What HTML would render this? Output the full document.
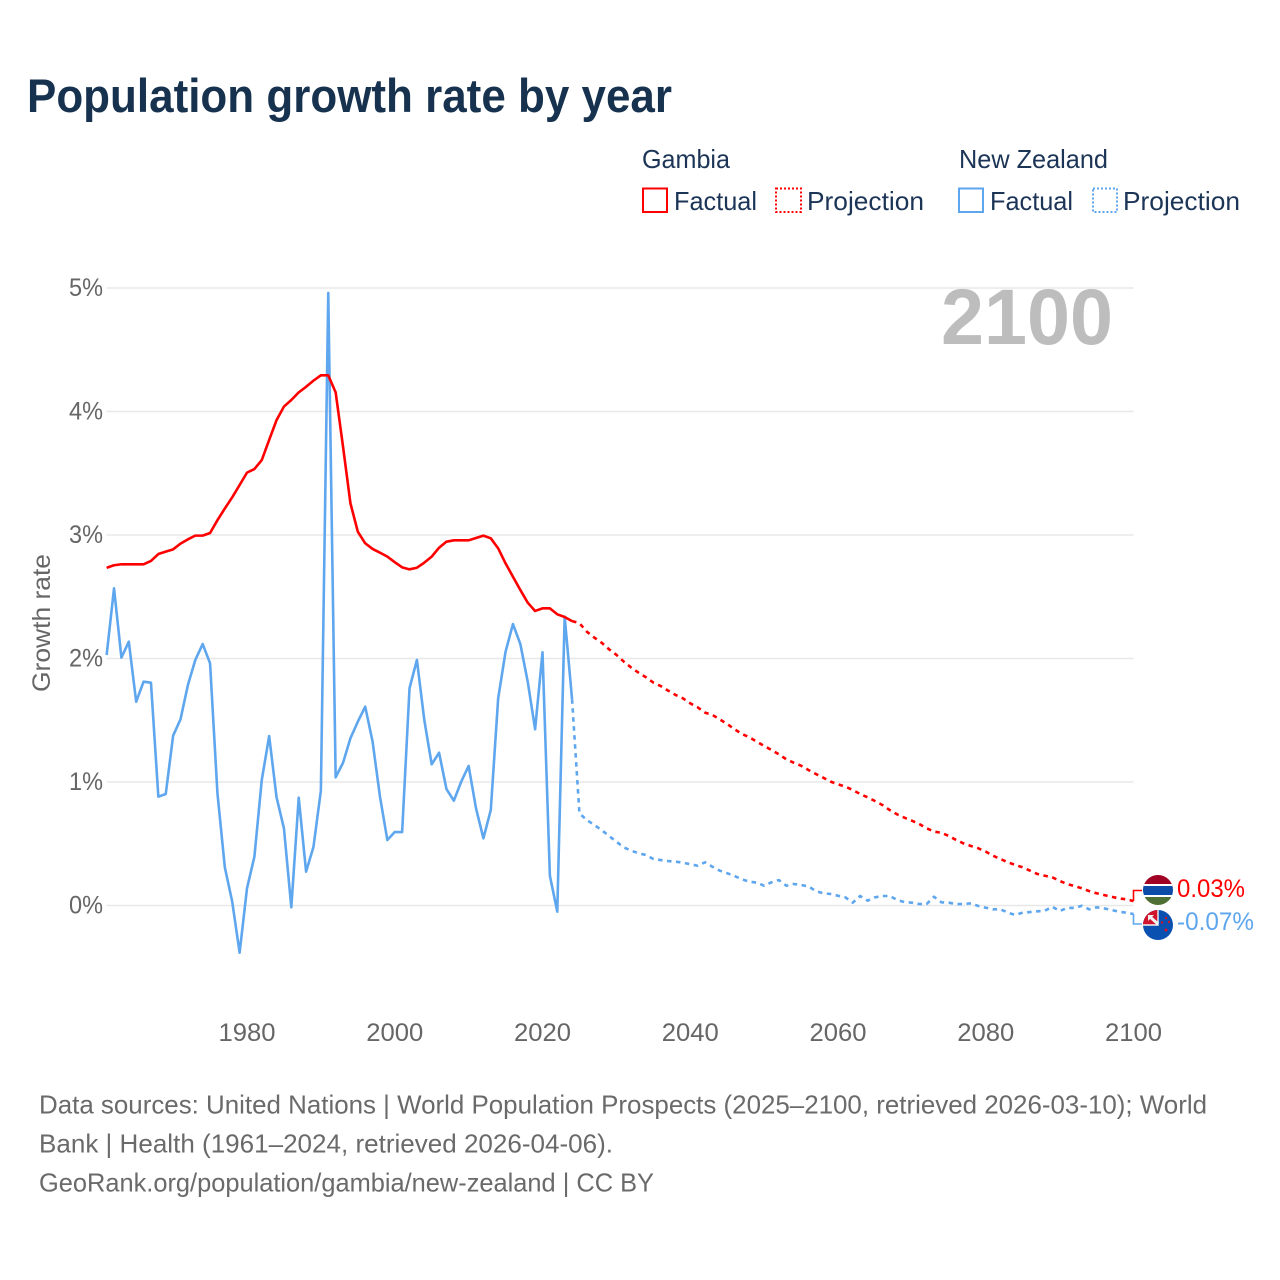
<!DOCTYPE html>
<html lang="en">
<head>
<meta charset="utf-8">
<title>Population growth rate by year</title>
<style>
html,body{margin:0;padding:0;background:#fff;width:1280px;height:1280px;overflow:hidden}
svg{display:block}
text{font-family:"Liberation Sans",sans-serif}
</style>
</head>
<body>
<svg id="chart" xmlns="http://www.w3.org/2000/svg" width="1280" height="1280" viewBox="0 0 1280 1280">
  <rect x="0" y="0" width="1280" height="1280" fill="#fff"/>
  <text x="27" y="112" font-size="47" font-weight="700" fill="#17324f" textLength="645" lengthAdjust="spacingAndGlyphs">Population growth rate by year</text>

  <g>
    <text x="642" y="168" font-size="26" fill="#1c3557" textLength="88" lengthAdjust="spacingAndGlyphs">Gambia</text>
    <rect x="643" y="188.5" width="24" height="23.5" fill="none" stroke="#ff0000" stroke-width="2"/>
    <text x="674" y="210" font-size="26" fill="#1c3557" textLength="83" lengthAdjust="spacingAndGlyphs">Factual</text>
    <rect x="776" y="188.5" width="25" height="23.5" fill="none" stroke="#ff0000" stroke-width="2" stroke-dasharray="2 2"/>
    <text x="807" y="210" font-size="26" fill="#1c3557" textLength="117" lengthAdjust="spacingAndGlyphs">Projection</text>
    <text x="959" y="168" font-size="26" fill="#1c3557" textLength="149" lengthAdjust="spacingAndGlyphs">New Zealand</text>
    <rect x="959" y="188.5" width="24" height="23.5" fill="none" stroke="#5ea6ee" stroke-width="2"/>
    <text x="990" y="210" font-size="26" fill="#1c3557" textLength="83" lengthAdjust="spacingAndGlyphs">Factual</text>
    <rect x="1093" y="188.5" width="24" height="23.5" fill="none" stroke="#5ea6ee" stroke-width="2" stroke-dasharray="2 2"/>
    <text x="1123" y="210" font-size="26" fill="#1c3557" textLength="117" lengthAdjust="spacingAndGlyphs">Projection</text>
  </g>

  <g id="grid"></g>
  <g id="yLabels"></g>
  <g id="xLabels"></g>
  <text transform="translate(50,623) rotate(-90)" text-anchor="middle" font-size="25" fill="#666" textLength="138" lengthAdjust="spacingAndGlyphs">Growth rate</text>
  <text x="941" y="344" font-size="79" font-weight="700" fill="#bdbdbd" textLength="172" lengthAdjust="spacingAndGlyphs">2100</text>
  <g id="series"></g>

  <g>
    <defs>
      <clipPath id="clip-gm"><circle cx="1158" cy="890" r="15"/></clipPath>
      <clipPath id="clip-nz"><circle cx="1158" cy="925" r="15"/></clipPath>
    </defs>
    <g clip-path="url(#clip-gm)">
      <rect x="1143" y="875" width="30" height="11" fill="#a00024"/>
      <rect x="1143" y="884" width="30" height="2" fill="#fff"/>
      <rect x="1143" y="886" width="30" height="9" fill="#0c4ca8"/>
      <rect x="1143" y="895" width="30" height="2" fill="#fff"/>
      <rect x="1143" y="897" width="30" height="8" fill="#4f7034"/>
    </g>
    <g clip-path="url(#clip-nz)">
      <rect x="1143" y="910" width="30" height="30" fill="#0a50b0"/>
      <rect x="1143" y="910" width="15" height="15" fill="#d0142c"/>
      <path d="M1143 925h15v-15" stroke="#f2f2f2" stroke-width="1.4" fill="none"/>
      <path d="M1149 916l9 8" stroke="#f2f2f2" stroke-width="3" fill="none"/>
      <path d="M1148 915h6l-6 6z" fill="#f2f2f2"/>
      <circle cx="1166" cy="918" r="1.2" fill="#d0142c"/>
      <circle cx="1169" cy="922" r="1.2" fill="#d0142c"/>
      <circle cx="1162" cy="922.5" r="1.2" fill="#d0142c"/>
      <circle cx="1166" cy="930" r="1.5" fill="#d0142c"/>
    </g>
    <text x="1177" y="897" font-size="25" fill="#ff0000" textLength="68" lengthAdjust="spacingAndGlyphs">0.03%</text>
    <text x="1177" y="930" font-size="25" fill="#5ea6ee" textLength="77" lengthAdjust="spacingAndGlyphs">-0.07%</text>
  </g>

  <g>
    <text x="39" y="1113.5" font-size="26" fill="#6a6a6a" textLength="1168" lengthAdjust="spacingAndGlyphs">Data sources: United Nations | World Population Prospects (2025–2100, retrieved 2026-03-10); World</text>
    <text x="39" y="1152.5" font-size="26" fill="#6a6a6a" textLength="574" lengthAdjust="spacingAndGlyphs">Bank | Health (1961–2024, retrieved 2026-04-06).</text>
    <text x="39" y="1191.5" font-size="26" fill="#6a6a6a" textLength="615" lengthAdjust="spacingAndGlyphs">GeoRank.org/population/gambia/new-zealand | CC BY</text>
  </g>
</svg>
<script>
const factualStartYear = 1961;
const projectionStartYear = 2024;
const yTicks = [0, 1, 2, 3, 4, 5];
const xTicks = [1980, 2000, 2020, 2040, 2060, 2080, 2100];
const gambiaFactual = [2.735,2.755,2.763,2.763,2.763,2.763,2.79,2.846,2.865,2.884,2.93,2.965,2.995,2.995,3.016,3.12,3.215,3.305,3.405,3.505,3.534,3.607,3.77,3.93,4.04,4.093,4.155,4.2,4.25,4.293,4.293,4.155,3.715,3.257,3.027,2.933,2.887,2.857,2.825,2.78,2.738,2.722,2.735,2.776,2.825,2.897,2.946,2.957,2.957,2.957,2.976,2.995,2.973,2.892,2.77,2.662,2.555,2.452,2.385,2.406,2.406,2.358,2.336,2.303];
const gambiaProjection = [2.303,2.286,2.217,2.17,2.128,2.075,2.03,1.975,1.927,1.885,1.848,1.805,1.777,1.74,1.705,1.678,1.637,1.605,1.562,1.543,1.507,1.47,1.427,1.389,1.362,1.327,1.292,1.259,1.224,1.184,1.156,1.132,1.097,1.065,1.035,1.003,0.981,0.962,0.935,0.903,0.876,0.846,0.814,0.773,0.738,0.711,0.687,0.66,0.625,0.598,0.589,0.563,0.53,0.503,0.482,0.463,0.436,0.403,0.376,0.35,0.328,0.309,0.282,0.255,0.241,0.228,0.2,0.174,0.158,0.139,0.117,0.099,0.085,0.071,0.058,0.05,0.036];
const newZealandFactual = [2.028,2.568,2.007,2.136,1.65,1.812,1.804,0.881,0.903,1.375,1.508,1.785,1.988,2.117,1.961,0.908,0.309,0.031,-0.382,0.139,0.395,1.016,1.372,0.876,0.625,-0.015,0.873,0.274,0.476,0.93,4.96,1.038,1.156,1.354,1.488,1.61,1.327,0.881,0.53,0.595,0.595,1.759,1.988,1.502,1.143,1.237,0.943,0.849,1.003,1.13,0.787,0.544,0.773,1.678,2.055,2.279,2.117,1.812,1.427,2.05,0.241,-0.05,2.339,1.67];
const newZealandProjection = [1.67,0.746,0.692,0.652,0.611,0.563,0.517,0.471,0.444,0.423,0.409,0.377,0.368,0.36,0.355,0.347,0.334,0.322,0.35,0.314,0.282,0.261,0.239,0.212,0.193,0.185,0.16,0.188,0.206,0.16,0.174,0.166,0.155,0.117,0.099,0.093,0.079,0.066,0.023,0.077,0.039,0.066,0.077,0.077,0.045,0.028,0.023,0.012,0.012,0.071,0.026,0.023,0.012,0.012,0.018,-0.004,-0.018,-0.031,-0.031,-0.058,-0.077,-0.058,-0.053,-0.047,-0.042,-0.01,-0.045,-0.02,-0.02,-0.002,-0.031,-0.015,-0.023,-0.036,-0.05,-0.058,-0.069];

const NS = 'http://www.w3.org/2000/svg';
function xScale(year) { return 247 + (year - 1980) * (1133.5 - 247) / 120; }
function yScale(v) { return 905.5 - v * 123.5; }

function pathFrom(values, startYear) {
  return values.map(function (v, i) {
    return (i ? 'L' : 'M') + xScale(startYear + i).toFixed(2) + ' ' + yScale(v).toFixed(2);
  }).join('');
}

const grid = document.getElementById('grid');
const yLabels = document.getElementById('yLabels');
const xLabels = document.getElementById('xLabels');
const series = document.getElementById('series');

yTicks.forEach(function (t) {
  const line = document.createElementNS(NS, 'line');
  
  
  line.setAttribute('x1', xScale(1961));
  line.setAttribute('x2', xScale(2100));
  line.setAttribute('y1', yScale(t));
  line.setAttribute('y2', yScale(t));
  line.setAttribute('stroke', '#e8e8e8');
  line.setAttribute('stroke-width', '1.4');
  grid.appendChild(line);

  const label = document.createElementNS(NS, 'text');
  
  
  label.setAttribute('x', '103');
  label.setAttribute('y', yScale(t) + 8);
  label.setAttribute('text-anchor', 'end');
  label.setAttribute('font-size', '25');
  label.setAttribute('fill', '#666');
  label.setAttribute('textLength', '34');
  label.setAttribute('lengthAdjust', 'spacingAndGlyphs');
  label.textContent = t + '%';
  yLabels.appendChild(label);
});

xTicks.forEach(function (t) {
  const label = document.createElementNS(NS, 'text');
  
  
  label.setAttribute('x', xScale(t));
  label.setAttribute('y', '1041');
  label.setAttribute('text-anchor', 'middle');
  label.setAttribute('font-size', '25');
  label.setAttribute('fill', '#666');
  label.setAttribute('textLength', '57');
  label.setAttribute('lengthAdjust', 'spacingAndGlyphs');
  label.textContent = t;
  xLabels.appendChild(label);
});

function addLine(values, startYear, color, dashed, name) {
  const p = document.createElementNS(NS, 'path');
  
  
  p.setAttribute('d', pathFrom(values, startYear));
  p.setAttribute('fill', 'none');
  p.setAttribute('stroke', color);
  p.setAttribute('stroke-width', '2.6');
  p.setAttribute('stroke-linejoin', 'round');
  if (dashed) p.setAttribute('stroke-dasharray', '4.5 4.5');
  series.appendChild(p);
}

addLine(newZealandFactual, factualStartYear, '#5ea6ee', false, 'new-zealand-factual-line');
addLine(newZealandProjection, projectionStartYear, '#5ea6ee', true, 'new-zealand-projection-line');
addLine(gambiaFactual, factualStartYear, '#ff0000', false, 'gambia-factual-line');
addLine(gambiaProjection, projectionStartYear, '#ff0000', true, 'gambia-projection-line');

function addConnector(lastValue, labelY, color, name) {
  const x = xScale(2100);
  const c = document.createElementNS(NS, 'path');
  
  
  c.setAttribute('d', 'M' + x + ' ' + yScale(lastValue) + 'V' + labelY + 'H1142');
  c.setAttribute('fill', 'none');
  c.setAttribute('stroke', color);
  c.setAttribute('stroke-width', '1.6');
  series.appendChild(c);
}
addConnector(gambiaProjection[gambiaProjection.length - 1], 890.5, '#ff0000', 'gambia-label-connector');
addConnector(newZealandProjection[newZealandProjection.length - 1], 924, '#5ea6ee', 'new-zealand-label-connector');
</script>
</body>
</html>
